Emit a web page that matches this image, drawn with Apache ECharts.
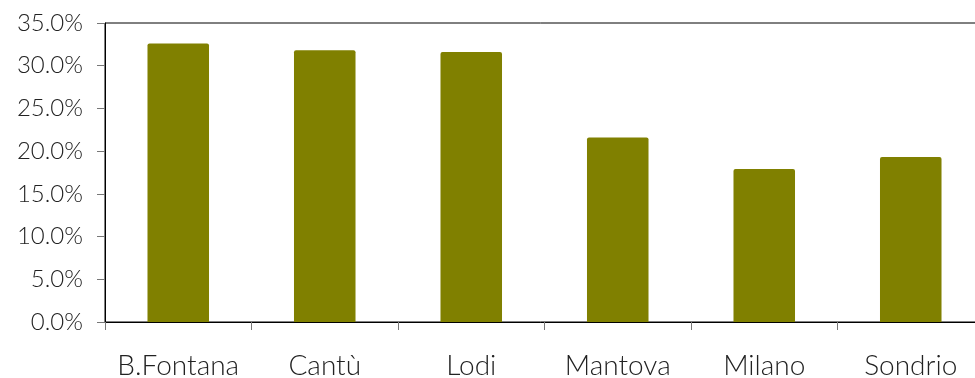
<!DOCTYPE html>
<html>
<head>
<meta charset="utf-8">
<script src="https://cdn.jsdelivr.net/npm/echarts@6/dist/echarts.min.js"></script>
<style>
  html, body { margin: 0; padding: 0; background: #fff; }
  #chart { width: 975px; height: 378px; }
</style>
</head>
<body>
<div id="chart"></div>
<script>
// Share by city (percent)
const categories = ['B.Fontana', 'Cantù', 'Lodi', 'Mantova', 'Milano', 'Sondrio'];
const values = [32.6, 31.8, 31.6, 21.6, 17.9, 19.3];

const FONT = 'Lato';
const chart = echarts.init(document.getElementById('chart'), null, { renderer: 'canvas' });

chart.setOption({
  animation: false,
  // plot area runs slightly past the right edge of the canvas
  grid: {
    left: 105, width: 879, top: 23, height: 299,
    outerBoundsMode: 'none',
    containLabel: false,
    show: true, borderColor: '#000', borderWidth: 1, backgroundColor: 'transparent'
  },
  xAxis: {
    type: 'category',
    data: categories,
    axisLine: { show: true, lineStyle: { color: '#000', width: 1 } },
    axisTick: { show: true, interval: 0, length: 8, lineStyle: { color: '#777' } },
    axisLabel: {
      interval: 0, hideOverlap: false,
      color: '#222', fontFamily: FONT, fontWeight: 300, fontSize: 28, margin: 30
    }
  },
  yAxis: {
    type: 'value',
    min: 0, max: 35, interval: 5,
    splitLine: { show: false },
    axisLine: { show: true, lineStyle: { color: '#000', width: 1 } },
    axisTick: { show: true, length: 8, lineStyle: { color: '#777' } },
    axisLabel: {
      color: '#222', fontFamily: FONT, fontWeight: 300, fontSize: 24, margin: 22,
      formatter: v => v.toFixed(1) + '%'
    }
  },
  series: [{
    type: 'bar',
    data: values,
    barWidth: '42%',
    itemStyle: { color: '#808000', borderRadius: [2, 2, 0, 0] }
  }]
});
</script>
</body>
</html>
